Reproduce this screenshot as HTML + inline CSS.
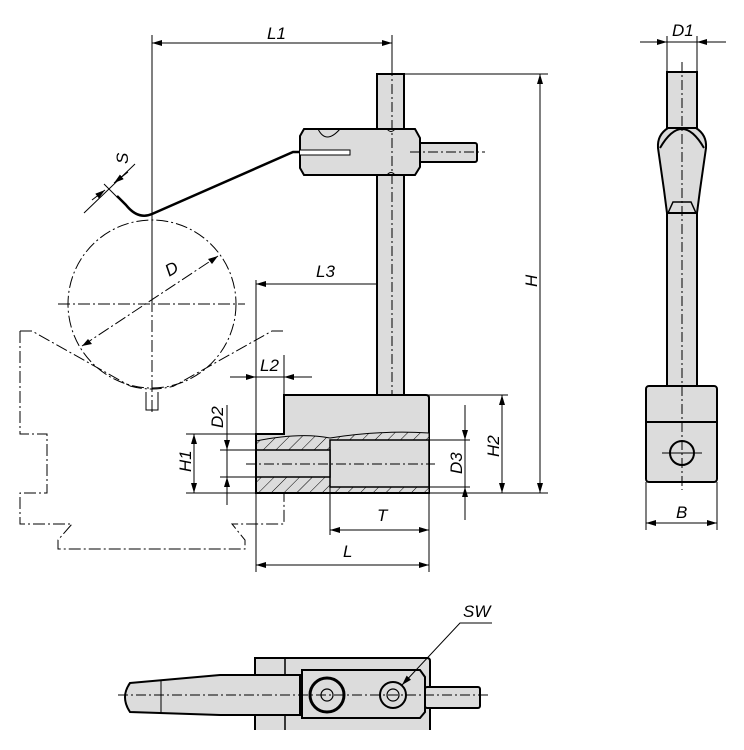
<!DOCTYPE html>
<html><head><meta charset="utf-8"><style>body{margin:0;background:#fff}svg{display:block}text{font-family:"Liberation Sans",sans-serif;font-style:italic;font-size:17px;fill:#000}</style></head><body>
<svg width="744" height="750" viewBox="0 0 744 750" xmlns="http://www.w3.org/2000/svg">
<defs>
<marker id="a" viewBox="0 0 10 6" refX="10" refY="3" markerWidth="10" markerHeight="6" orient="auto-start-reverse" markerUnits="userSpaceOnUse"><path d="M0,0L10,3L0,6z"/></marker>
<pattern id="h" width="9" height="9" patternUnits="userSpaceOnUse" patternTransform="rotate(45)"><rect width="9" height="9" fill="#dcdcdc"/><line x1="0" y1="0" x2="0" y2="9" stroke="#000" stroke-width="1"/></pattern>
</defs>
<g fill="none" stroke="#000" stroke-width="1">
<line x1="152" y1="35" x2="152" y2="300"/><line x1="392" y1="35" x2="392" y2="72"/>
<line x1="152" y1="43" x2="392" y2="43" marker-start="url(#a)" marker-end="url(#a)"/>
<line x1="405" y1="74" x2="548" y2="74"/><line x1="430" y1="493" x2="548" y2="493"/>
<line x1="540" y1="74" x2="540" y2="493" marker-start="url(#a)" marker-end="url(#a)"/>
<line x1="426" y1="395" x2="508" y2="395"/>
<line x1="502" y1="395" x2="502" y2="493" marker-start="url(#a)" marker-end="url(#a)"/>
<line x1="426" y1="440" x2="470" y2="440"/><line x1="426" y1="487" x2="470" y2="487"/>
<line x1="465" y1="405" x2="465" y2="440" marker-end="url(#a)"/><line x1="465" y1="520" x2="465" y2="487" marker-end="url(#a)"/>
<line x1="465" y1="440" x2="465" y2="487"/>
<line x1="330" y1="490" x2="330" y2="535"/><line x1="429" y1="490" x2="429" y2="572"/><line x1="256" y1="280" x2="256" y2="572"/>
<line x1="330" y1="530" x2="429" y2="530" marker-start="url(#a)" marker-end="url(#a)"/>
<line x1="256" y1="565" x2="429" y2="565" marker-start="url(#a)" marker-end="url(#a)"/>
<line x1="256" y1="284" x2="392" y2="284" marker-start="url(#a)" marker-end="url(#a)"/>
<line x1="230" y1="377" x2="256" y2="377" marker-end="url(#a)"/><line x1="312" y1="377" x2="284" y2="377" marker-end="url(#a)"/>
<line x1="256" y1="377" x2="284" y2="377"/><line x1="284" y1="355" x2="284" y2="395"/>
<line x1="186" y1="434" x2="256" y2="434"/><line x1="186" y1="493" x2="256" y2="493"/>
<line x1="220" y1="450" x2="256" y2="450"/><line x1="220" y1="477" x2="256" y2="477"/>
<line x1="194" y1="434" x2="194" y2="493" marker-start="url(#a)" marker-end="url(#a)"/>
<line x1="227" y1="405" x2="227" y2="450" marker-end="url(#a)"/><line x1="227" y1="505" x2="227" y2="477" marker-end="url(#a)"/>
<line x1="227" y1="450" x2="227" y2="477"/>
<line x1="84" y1="213" x2="135" y2="164"/>
<line x1="92" y1="200" x2="105" y2="190" marker-end="url(#a)"/><line x1="128" y1="172" x2="114" y2="183" marker-end="url(#a)"/>
<line x1="104" y1="184" x2="118" y2="198"/>
</g>
<g fill="none" stroke="#000" stroke-width="1" stroke-dasharray="12,3,2,3">
<circle cx="152" cy="304" r="84"/>
<line x1="58" y1="304" x2="245" y2="304"/><line x1="152" y1="220" x2="152" y2="415"/>
<line x1="82" y1="346" x2="218" y2="256"/>
<path d="M20,331 L32,331 L130,386 M283,331 L272,331 L174,386 M20,331 L20,434 L47,434 L47,493 L20,493 L20,524 L72,524 L58,540 L58,549 L245,549 L245,540 L232,524 L284,524 L284,493"/>
<path d="M130,386 Q152,392 174,386"/>
</g>
<path d="M146,392 L146,410 L158,410 L158,392" fill="none" stroke="#000"/>
<g fill="#000" stroke="none"><path d="M218,256l-10,3 4,5z"/><path d="M82,346l10,-2 -4,-5z"/></g>
<rect x="377" y="74" width="27" height="321" fill="#dcdcdc" stroke="#000" stroke-width="2"/>
<rect x="418" y="143" width="59" height="19" fill="#dcdcdc" stroke="#000" stroke-width="2" rx="2"/>
<path d="M304,129 L415,129 L420,138 L420,167 L415,175 L304,175 L300,168 L300,136Z" fill="#dcdcdc" stroke="#000" stroke-width="2"/>
<path d="M318,129 Q326,145 340,129 M387,129 Q391,134 395,129 M387,175 Q391,170 395,175" fill="none" stroke="#000"/>
<path d="M300,150 L350,150 L350,155 L300,155" fill="#fff" stroke="#000"/>
<path d="M300,152 L293,152 L152,214 Q138,220 126,205 L117,196" fill="none" stroke="#000" stroke-width="2.5"/>
<line x1="392" y1="66" x2="392" y2="400" stroke="#000" stroke-dasharray="10,3,2,3"/>
<line x1="410" y1="152" x2="485" y2="152" stroke="#000" stroke-dasharray="10,3,2,3"/>
<path d="M284,395 L426,395 Q429,395 429,398 L429,493 L256,493 L256,434 L284,434Z" fill="#dcdcdc" stroke="#000" stroke-width="2"/>
<path d="M256,441 Q300,432 330,438 Q380,430 429,433 L429,440 L330,440 L330,450 L256,450Z" fill="url(#h)" stroke="#000"/>
<rect x="256" y="477" width="74" height="16" fill="url(#h)" stroke="#000"/>
<rect x="330" y="487" width="99" height="6" fill="url(#h)" stroke="#000"/>
<rect x="330" y="440" width="99" height="47" fill="#dcdcdc" stroke="#000" stroke-width="1.5"/>
<rect x="256" y="450" width="74" height="27" fill="#dcdcdc" stroke="#000" stroke-width="1.5"/>
<path d="M256,434 L256,493 L429,493" fill="none" stroke="#000" stroke-width="2"/>
<line x1="246" y1="464" x2="435" y2="464" stroke="#000" stroke-dasharray="10,3,2,3"/>
<g stroke="#000" stroke-width="2" fill="#dcdcdc">
<rect x="667" y="72" width="30" height="320"/>
<path d="M668,128 Q657,135 658,148 L664,190 L667,213 L697,213 L700,190 L706,148 Q707,135 696,128Z"/>
<path d="M660,148 Q682,110 704,148" fill="none"/>
<path d="M668,213 L673,202 L691,202 L696,213" fill="none" stroke-width="1.5"/>
<rect x="646" y="386" width="71" height="96" rx="3"/>
<line x1="646" y1="422" x2="717" y2="422"/>
<circle cx="682" cy="453" r="12" fill="#dcdcdc"/>
</g>
<line x1="682" y1="62" x2="682" y2="490" stroke="#000" stroke-dasharray="10,3,2,3"/>
<line x1="662" y1="453" x2="702" y2="453" stroke="#000"/>
<g fill="none" stroke="#000">
<line x1="667" y1="36" x2="667" y2="72"/><line x1="697" y1="36" x2="697" y2="72"/>
<line x1="640" y1="42" x2="667" y2="42" marker-end="url(#a)"/><line x1="726" y1="42" x2="697" y2="42" marker-end="url(#a)"/>
<line x1="667" y1="42" x2="697" y2="42"/>
<line x1="646" y1="482" x2="646" y2="530"/><line x1="717" y1="482" x2="717" y2="530"/>
<line x1="646" y1="523" x2="717" y2="523" marker-start="url(#a)" marker-end="url(#a)"/>
</g>
<g stroke="#000" stroke-width="2" fill="#dcdcdc">
<path d="M255,730 L255,658 L427,658 Q430,658 430,661 L430,730"/>
<line x1="285" y1="658" x2="285" y2="730" stroke-width="1.5"/>
<rect x="425" y="687" width="55" height="21" rx="2"/>
<path d="M130,683 L220,675 L300,675 L300,715 L220,715 L130,712 Q120,697 130,683Z"/>
<line x1="161" y1="680" x2="161" y2="714" stroke-width="1"/>
<path d="M302,670 L420,670 L425,677 L425,712 L420,718 L302,718Z"/>
<circle cx="327" cy="695" r="17" stroke-width="3"/>
<circle cx="393" cy="695" r="13"/>
<circle cx="327" cy="695" r="6" stroke-width="1.2"/><circle cx="393" cy="695" r="6" stroke-width="1.2"/>
</g>
<line x1="118" y1="695" x2="488" y2="695" stroke="#000" stroke-dasharray="10,3,2,3"/>
<path d="M492,623 L460,623 L402,685" fill="none" stroke="#000" marker-end="url(#a)"/>
<text x="267" y="39">L1</text>
<text x="316" y="277">L3</text>
<text x="260" y="371">L2</text>
<text x="377" y="521">T</text>
<text x="343" y="557">L</text>
<text x="672" y="36">D1</text>
<text x="676" y="518">B</text>
<text x="463" y="617">SW</text>
<text x="166" y="275" transform="rotate(-30 171 270)">D</text>
<text x="0" y="0" transform="translate(128,164) rotate(-90)">S</text>
<text x="0" y="0" transform="translate(537,287) rotate(-90)">H</text>
<text x="0" y="0" transform="translate(499,457) rotate(-90)">H2</text>
<text x="0" y="0" transform="translate(462,474) rotate(-90)">D3</text>
<text x="0" y="0" transform="translate(191,472) rotate(-90)">H1</text>
<text x="0" y="0" transform="translate(223,428) rotate(-90)">D2</text>
</svg>
</body></html>
